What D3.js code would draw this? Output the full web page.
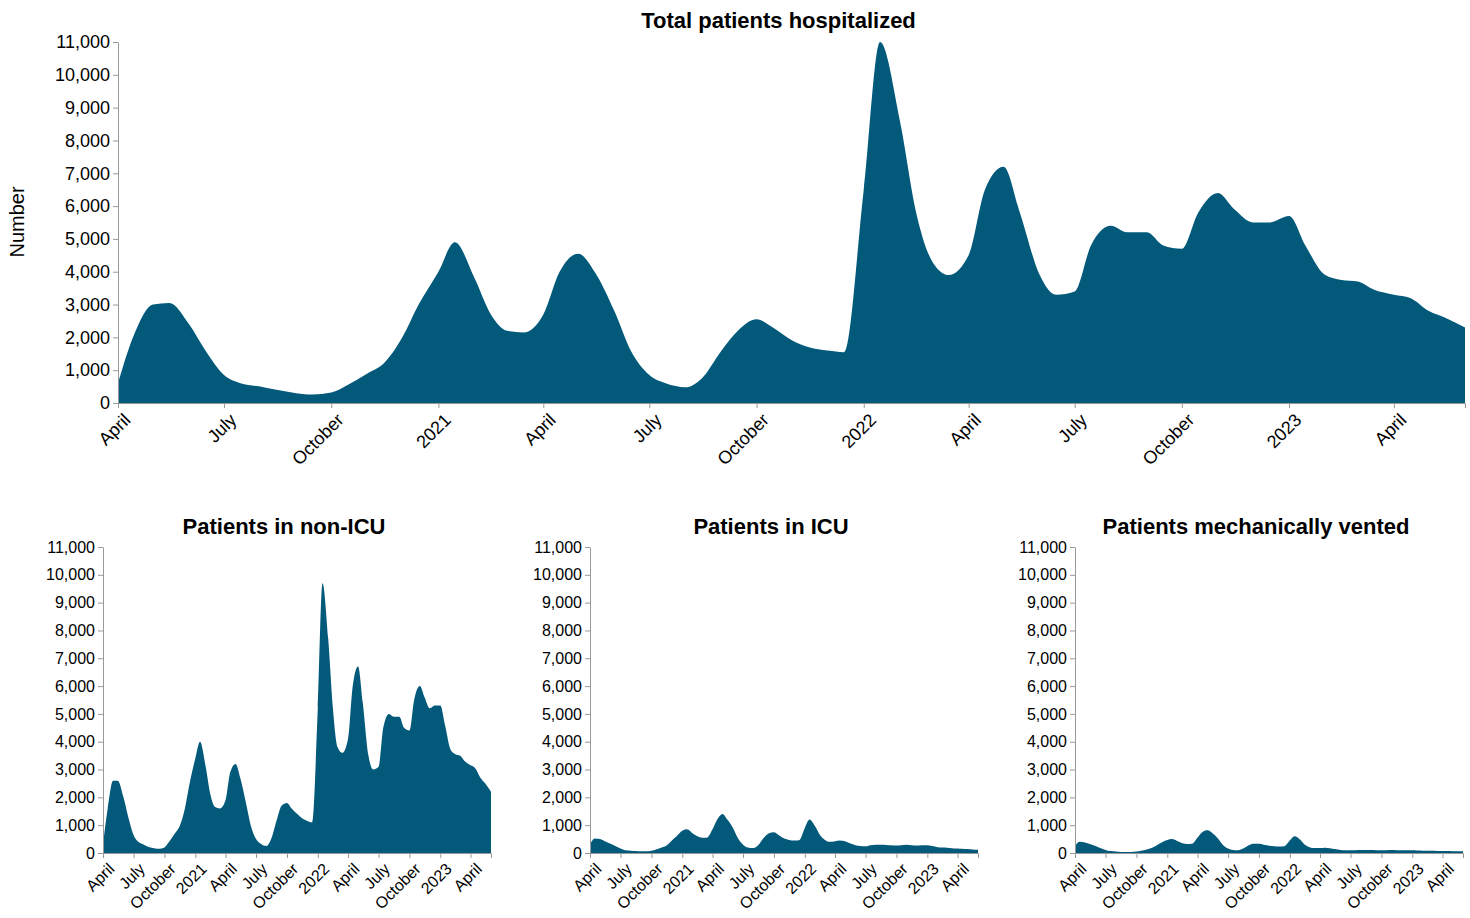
<!DOCTYPE html>
<html>
<head>
<meta charset="utf-8">
<script src="https://cdn.jsdelivr.net/npm/d3@7"></script>
<style>
  body { margin: 0; background: #fff; font-family: "Liberation Sans", Arial, sans-serif; }
  .title { font-weight: bold; }
  .axis path, .axis line { stroke: #999; }
  .axis text { fill: #000; }
</style>
</head>
<body>
<svg id="chart" width="1470" height="918"></svg>
<script>
// semi-monthly readings (1st and 15th of each month), April 2020 to June 2023
const dates = [];
for (let y = 2020; y <= 2023; y++) {
    for (let m = 0; m < 12; m++) {
        if (y === 2020 && m < 3) continue;
        if (y === 2023 && m > 5) continue;
        dates.push(new Date(y, m, 1));
        if (!(y === 2023 && m === 5)) dates.push(new Date(y, m, 15));
    }
}

const total = [600, 2100, 3000, 3050, 2400, 1600, 850, 600, 500, 400, 300, 260, 320, 550, 900, 1200, 2000, 3000,
    4000, 4900, 3800, 2700, 2200, 2150, 2700, 4000, 4550, 4000, 2800, 1600, 850, 600, 480, 750, 1600, 2200, 2550, 2300, 1900, 1700, 1600, 1550,
    6500, 11000, 8600, 5800, 4300, 3900, 4500, 6500, 7200, 5800, 3900, 3300, 3400, 4800, 5400, 5200, 5200, 4800, 4700, 5800, 6400, 5900, 5500, 5500,
    5700, 4800, 3900, 3750, 3700, 3450, 3300, 3200, 2800, 2600, 2300];

const nonIcu = [300, 1600, 2600, 2600, 2000, 1300, 650, 400, 300, 220, 170, 150, 200, 400, 700, 950, 1600, 2500,
    3400, 4000, 3100, 2100, 1650, 1600, 1900, 2900, 3200, 2700, 1800, 1000, 500, 330, 250, 500, 1200, 1700, 1800, 1600, 1400, 1250, 1150, 1100,
    5200, 9700, 7700, 5200, 3800, 3600, 4100, 6000, 6700, 5400, 3500, 3000, 3100, 4500, 5000, 4900, 4900, 4500, 4400, 5500, 6000, 5600, 5200, 5300,
    5300, 4600, 3700, 3550, 3500, 3300, 3150, 3050, 2700, 2500, 2200];

const icu = [300, 520, 500, 420, 330, 250, 160, 100, 80, 70, 60, 60, 80, 130, 200, 270, 450, 600,
    800, 850, 700, 600, 550, 550, 850, 1200, 1400, 1200, 900, 550, 300, 200, 180, 280, 550, 700, 750, 650, 520, 470, 450, 460,
    900, 1200, 950, 650, 480, 400, 420, 450, 420, 350, 280, 250, 240, 280, 300, 300, 290, 280, 270, 280, 300, 280, 270, 280,
    280, 250, 210, 200, 190, 170, 160, 150, 140, 130, 120];

const vented = [250, 400, 380, 320, 250, 180, 110, 70, 50, 40, 35, 35, 50, 80, 130, 180, 280, 380,
    470, 500, 420, 350, 320, 330, 550, 750, 820, 720, 520, 300, 160, 110, 100, 160, 280, 330, 330, 300, 260, 240, 230, 240,
    450, 600, 480, 300, 210, 180, 180, 190, 170, 140, 110, 100, 95, 100, 110, 110, 105, 100, 100, 100, 105, 100, 95, 95,
    95, 90, 85, 80, 80, 75, 70, 70, 65, 60, 60];

const yTicks = d3.range(0, 11001, 1000);
const color = "#02597a";

const svg = d3.select("#chart");
const fmtTick = d => d.getMonth() === 0 ? d3.timeFormat("%Y")(d) : d3.timeFormat("%B")(d);

function panel(values, title, box, fontSize, titleY) {
    const x = d3.scaleTime().domain([new Date(2020, 3, 1), new Date(2023, 5, 1)]).range([box.x0, box.x1]);
    const y = d3.scaleLinear().domain([0, 11000]).range([box.y1, box.y0]);

    const area = d3.area()
        .x((d, i) => x(dates[i]))
        .y0(y(0))
        .y1(d => y(d))
        .curve(d3.curveMonotoneX);

    svg.append("path").datum(values).attr("d", area).attr("fill", color);

    const xa = svg.append("g").attr("class", "axis")
        .attr("transform", `translate(0,${box.y1})`)
        .call(d3.axisBottom(x).ticks(d3.timeMonth.every(3)).tickFormat(fmtTick).tickSize(5).tickSizeOuter(5));
    xa.selectAll("text")
        .style("font-size", fontSize + "px")
        .attr("text-anchor", "end")
        .attr("x", 0).attr("y", 0).attr("dy", 0)
        .attr("transform", "translate(4,9) rotate(-45)")
        .attr("dominant-baseline", "hanging");

    const ya = svg.append("g").attr("class", "axis")
        .attr("transform", `translate(${box.x0},0)`)
        .call(d3.axisLeft(y).tickValues(yTicks).tickFormat(d3.format(",")).tickSize(5).tickSizeOuter(0));
    ya.selectAll("text").style("font-size", fontSize + "px");

    svg.append("text").attr("class", "title")
        .attr("x", (box.x0 + box.x1) / 2 - 13).attr("y", titleY)
        .attr("text-anchor", "middle")
        .style("font-size", "22px")
        .text(title);
}

panel(total, "Total patients hospitalized", { x0: 118, x1: 1465, y0: 42, y1: 403 }, 18, 28);
panel(nonIcu, "Patients in non-ICU", { x0: 103, x1: 491, y0: 547, y1: 853 }, 16, 534);
panel(icu, "Patients in ICU", { x0: 590, x1: 978, y0: 547, y1: 853 }, 16, 534);
panel(vented, "Patients mechanically vented", { x0: 1075, x1: 1463, y0: 547, y1: 853 }, 16, 534);

svg.append("text")
    .attr("transform", "translate(24,222) rotate(-90)")
    .attr("text-anchor", "middle")
    .style("font-size", "20px")
    .text("Number");
</script>
</body>
</html>
